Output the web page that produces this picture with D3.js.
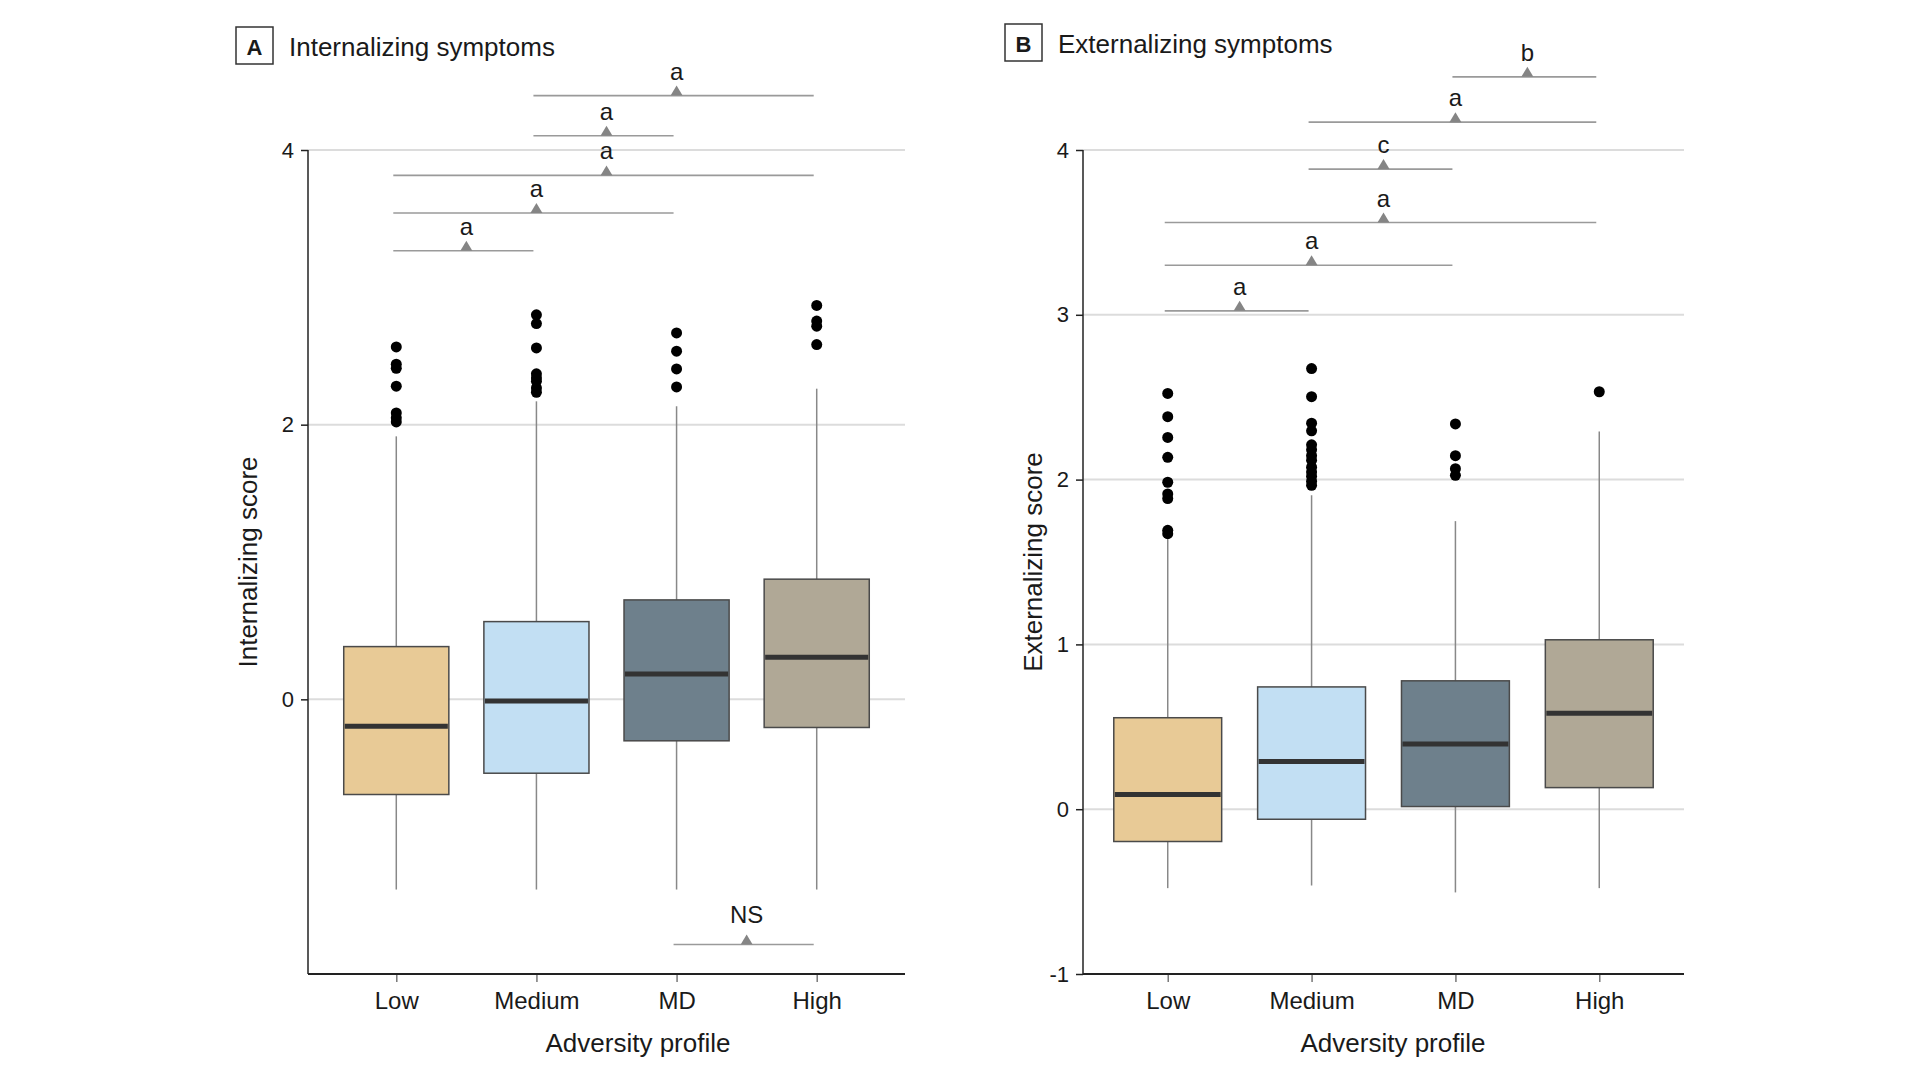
<!DOCTYPE html>
<html>
<head>
<meta charset="utf-8">
<script src="https://cdn.jsdelivr.net/npm/d3@7"></script>
<style>
  html, body { margin: 0; padding: 0; background: #ffffff; }
  svg { display: block; }
  text { font-family: "Liberation Sans", Arial, sans-serif; fill: #1a1a1a; }
</style>
</head>
<body>
<svg id="chart" width="1920" height="1080"></svg>
<script>
// ---------------- DATA ----------------
const categories = ["Low", "Medium", "MD", "High"];

// Panel A: Internalizing score
const intWhiskerLow  = [-1.385, -1.385, -1.385, -1.385];
const intQ1          = [-0.693, -0.538, -0.302, -0.205];
const intMedian      = [-0.196, -0.012, 0.185, 0.306];
const intQ3          = [0.384, 0.566, 0.724, 0.875];
const intWhiskerHigh = [1.915, 2.170, 2.134, 2.262];
const intOutliers = [
  [2.566, 2.44, 2.41, 2.28, 2.085, 2.05, 2.02],
  [2.80, 2.736, 2.559, 2.37, 2.34, 2.316, 2.267, 2.236],
  [2.668, 2.535, 2.406, 2.275],
  [2.868, 2.754, 2.717, 2.583]
];
const intTicks = [0, 2, 4];
const intCompFrom  = [0, 0, 0, 1, 1, 2];
const intCompTo    = [1, 2, 3, 2, 3, 3];
const intCompLevel = [3.266, 3.541, 3.815, 4.104, 4.396, -1.785];
const intCompLabel = ["a", "a", "a", "a", "a", "NS"];

// Panel B: Externalizing score
const extWhiskerLow  = [-0.479, -0.463, -0.505, -0.479];
const extQ1          = [-0.196, -0.061, 0.016, 0.131];
const extMedian      = [0.089, 0.290, 0.396, 0.582];
const extQ3          = [0.555, 0.742, 0.779, 1.028];
const extWhiskerHigh = [1.638, 1.905, 1.748, 2.292];
const extOutliers = [
  [2.523, 2.382, 2.256, 2.135, 1.984, 1.913, 1.885, 1.692, 1.672],
  [2.674, 2.503, 2.342, 2.296, 2.211, 2.181, 2.145, 2.117, 2.075, 2.046, 2.02, 1.99, 1.965],
  [2.338, 2.145, 2.066, 2.026],
  [2.533]
];
const extTicks = [-1, 0, 1, 2, 3, 4];
const extCompFrom  = [0, 0, 0, 1, 1, 2];
const extCompTo    = [1, 2, 3, 2, 3, 3];
const extCompLevel = [3.024, 3.301, 3.560, 3.884, 4.169, 4.444];
const extCompLabel = ["a", "a", "a", "c", "a", "b"];

// ---------------- STYLE ----------------
const boxColors = ["#e8ca96", "#c2dff3", "#6e808c", "#b0a896"];

const svg = d3.select("#chart");

function drawPanel(cfg) {
  const g = svg.append("g");
  const x = d3.scalePoint().domain(categories).range([cfg.left, cfg.right]).padding(cfg.pad);
  const y = d3.scaleLinear().domain(cfg.domain).range([cfg.bottom, cfg.top]);
  const bw = x.step() * 0.75;

  // gridlines
  g.append("g").selectAll("line").data(cfg.ticks.filter(t => t !== cfg.domain[0]))
    .join("line")
    .attr("x1", cfg.left).attr("x2", cfg.right)
    .attr("y1", d => y(d)).attr("y2", d => y(d))
    .attr("stroke", "#dcdcdc").attr("stroke-width", 2);

  // y axis
  const yAxis = d3.axisLeft(y).tickValues(cfg.ticks).tickSize(7).tickPadding(7).tickFormat(d => String(d));
  const ya = g.append("g").attr("transform", `translate(${cfg.left},0)`).call(yAxis);
  ya.select(".domain").remove();
  ya.selectAll(".tick line").attr("stroke", "#222").attr("stroke-width", 1.5);
  ya.selectAll(".tick text").attr("font-size", 22).attr("fill", "#1a1a1a")
    .attr("font-family", "'Liberation Sans', Arial, sans-serif");
  g.append("line").attr("x1", cfg.left).attr("x2", cfg.left)
    .attr("y1", y(cfg.domain[1])).attr("y2", y(cfg.domain[0]))
    .attr("stroke", "#222").attr("stroke-width", 1.5);

  // x axis
  const xAxis = d3.axisBottom(x).tickSize(8).tickPadding(10);
  const xa = g.append("g").attr("transform", `translate(0,${cfg.bottom})`).call(xAxis);
  xa.select(".domain").remove();
  xa.selectAll(".tick line").attr("stroke", "#777").attr("stroke-width", 1.5);
  xa.selectAll(".tick text").attr("font-size", 24).attr("fill", "#1a1a1a")
    .attr("font-family", "'Liberation Sans', Arial, sans-serif");
  g.append("line").attr("x1", cfg.left).attr("x2", cfg.right)
    .attr("y1", cfg.bottom).attr("y2", cfg.bottom)
    .attr("stroke", "#222").attr("stroke-width", 1.8);

  // boxes
  const idx = d3.range(categories.length);
  const boxes = g.append("g").selectAll("g").data(idx).join("g");
  boxes.append("line")
    .attr("x1", i => x(categories[i])).attr("x2", i => x(categories[i]))
    .attr("y1", i => y(cfg.q3[i])).attr("y2", i => y(cfg.wh[i]))
    .attr("stroke", "#888").attr("stroke-width", 1.5);
  boxes.append("line")
    .attr("x1", i => x(categories[i])).attr("x2", i => x(categories[i]))
    .attr("y1", i => y(cfg.q1[i])).attr("y2", i => y(cfg.wl[i]))
    .attr("stroke", "#888").attr("stroke-width", 1.5);
  boxes.append("rect")
    .attr("x", i => x(categories[i]) - bw / 2).attr("width", bw)
    .attr("y", i => y(cfg.q3[i])).attr("height", i => y(cfg.q1[i]) - y(cfg.q3[i]))
    .attr("fill", i => boxColors[i]).attr("stroke", "#4a4a4a").attr("stroke-width", 1.5);
  boxes.append("line")
    .attr("x1", i => x(categories[i]) - bw / 2 + 1).attr("x2", i => x(categories[i]) + bw / 2 - 1)
    .attr("y1", i => y(cfg.med[i])).attr("y2", i => y(cfg.med[i]))
    .attr("stroke", "#333").attr("stroke-width", 5);
  boxes.each(function(i) {
    d3.select(this).selectAll("circle").data(cfg.out[i]).join("circle")
      .attr("cx", x(categories[i])).attr("cy", d => y(d)).attr("r", 5.5)
      .attr("fill", "#000");
  });

  // comparison annotations
  const comps = g.append("g").selectAll("g").data(d3.range(cfg.cFrom.length)).join("g");
  comps.append("line")
    .attr("x1", i => x(categories[cfg.cFrom[i]]) - 3).attr("x2", i => x(categories[cfg.cTo[i]]) - 3)
    .attr("y1", i => y(cfg.cLevel[i])).attr("y2", i => y(cfg.cLevel[i]))
    .attr("stroke", "#9a9a9a").attr("stroke-width", 1.6);
  comps.append("path")
    .attr("d", i => {
      const cx = (x(categories[cfg.cFrom[i]]) + x(categories[cfg.cTo[i]])) / 2;
      const cy = y(cfg.cLevel[i]);
      return `M${cx - 6},${cy} L${cx + 6},${cy} L${cx},${cy - 10} Z`;
    })
    .attr("fill", "#858585");
  comps.append("text")
    .attr("x", i => (x(categories[cfg.cFrom[i]]) + x(categories[cfg.cTo[i]])) / 2)
    .attr("y", i => y(cfg.cLevel[i]) - (cfg.cLabel[i] === "NS" ? 21 : 16))
    .attr("text-anchor", "middle").attr("font-size", 24)
    .text(i => cfg.cLabel[i]);

  // panel title
  g.append("rect").attr("x", cfg.boxX).attr("y", cfg.boxY).attr("width", 37).attr("height", 37)
    .attr("fill", "none").attr("stroke", "#333").attr("stroke-width", 1.5);
  g.append("text").attr("x", cfg.boxX + 18.5).attr("y", cfg.boxY + 28)
    .attr("text-anchor", "middle").attr("font-size", 22).attr("font-weight", "bold")
    .text(cfg.letter);
  g.append("text").attr("x", cfg.boxX + 53).attr("y", cfg.boxY + 29)
    .attr("font-size", 26).text(cfg.title);

  // axis titles
  g.append("text")
    .attr("transform", `translate(${cfg.yTitleX},562) rotate(-90)`)
    .attr("text-anchor", "middle").attr("font-size", 26).text(cfg.yTitle);
  g.append("text").attr("x", cfg.xTitleX).attr("y", 1052)
    .attr("text-anchor", "middle").attr("font-size", 26).text("Adversity profile");
}

drawPanel({
  left: 308, right: 905, top: 150, bottom: 974, pad: 0.63,
  domain: [-2, 4], ticks: intTicks,
  wl: intWhiskerLow, q1: intQ1, med: intMedian, q3: intQ3, wh: intWhiskerHigh, out: intOutliers,
  cFrom: intCompFrom, cTo: intCompTo, cLevel: intCompLevel, cLabel: intCompLabel,
  boxX: 236, boxY: 27, letter: "A", title: "Internalizing symptoms",
  yTitle: "Internalizing score", yTitleX: 257, xTitleX: 638
});

drawPanel({
  left: 1083, right: 1684, top: 150, bottom: 974, pad: 0.589,
  domain: [-1, 4], ticks: extTicks,
  wl: extWhiskerLow, q1: extQ1, med: extMedian, q3: extQ3, wh: extWhiskerHigh, out: extOutliers,
  cFrom: extCompFrom, cTo: extCompTo, cLevel: extCompLevel, cLabel: extCompLabel,
  boxX: 1005, boxY: 24, letter: "B", title: "Externalizing symptoms",
  yTitle: "Externalizing score", yTitleX: 1042, xTitleX: 1393
});
</script>
</body>
</html>
